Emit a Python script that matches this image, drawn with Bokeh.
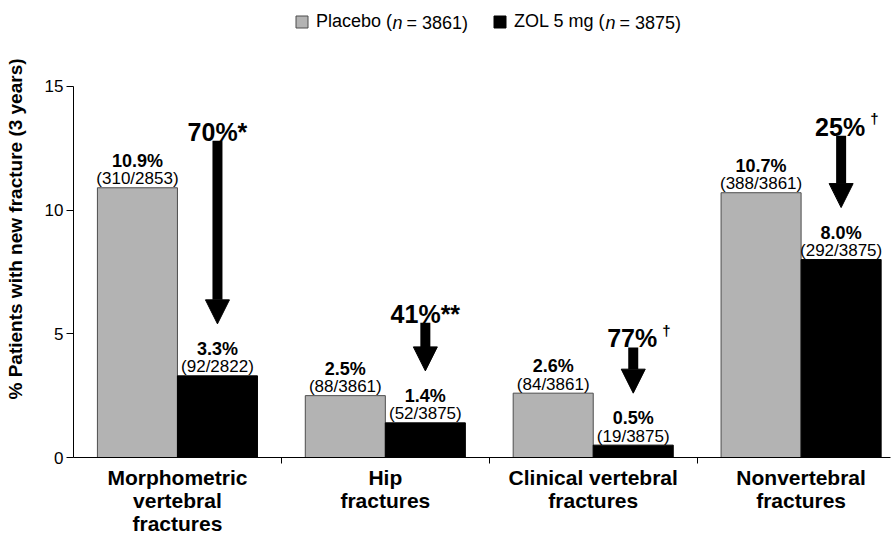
from bokeh.plotting import figure
from bokeh.models import (Range1d, LinearAxis, FixedTicker, ColumnDataSource,
                          Arrow, NormalHead, Legend, LegendItem, Label)
from bokeh.transform import dodge
from bokeh.core.properties import value
from bokeh.embed import file_html
from bokeh.resources import INLINE

# ---- data ----
categories = ["Morphometric\nvertebral\nfractures", "Hip\nfractures",
              "Clinical vertebral\nfractures", "Nonvertebral\nfractures"]
placebo_pct = [10.9, 2.5, 2.6, 10.7]
zol_pct = [3.3, 1.4, 0.5, 8.0]
placebo_counts = ["310/2853", "88/3861", "84/3861", "388/3861"]
zol_counts = ["92/2822", "52/3875", "19/3875", "292/3875"]
reduction = ["70%", "41%", "77%", "25%"]
significance = ["*", "**", "\u2020", "\u2020"]
series_names = ["Placebo", "ZOL 5 mg"]
series_n = [3861, 3875]
y_ticks = [0, 5, 10, 15]
# annotation layout: height (data units) where each reduction arrow starts
arrow_top = [12.8, 5.45, 4.45, 13.0]

FONT = "Liberation Sans"
PLACEBO_FILL = "#b3b3b3"
PLACEBO_LINE = "#4d4d4d"
HALF = 0.1925
BAR_W = 0.385
X_END = 3.93
Y_MAX = 15

W, H = 896, 537
LEFT, AXIS_TOP, BOTTOM, RIGHT = 73, 86, 79, 6
PX_PER_X = (W - LEFT - RIGHT) / X_END
PX_PER_Y = (H - AXIS_TOP - BOTTOM) / Y_MAX
Y_END = Y_MAX + AXIS_TOP / PX_PER_Y   # frame extends to canvas top; axis stops at 15

centers = [i + 0.5 for i in range(len(categories))]

src = ColumnDataSource(dict(
    x=centers,
    placebo=placebo_pct,
    zol=zol_pct,
    placebo_pct_lbl=[f"{v:.1f}%" for v in placebo_pct],
    zol_pct_lbl=[f"{v:.1f}%" for v in zol_pct],
    placebo_n_lbl=[f"({c})" for c in placebo_counts],
    zol_n_lbl=[f"({c})" for c in zol_counts],
))

p = figure(width=W, height=H, x_range=Range1d(0, X_END), y_range=Range1d(0, Y_END),
           output_backend="svg", toolbar_location=None,
           x_axis_type=None, y_axis_type=None,
           min_border_left=LEFT, min_border_right=RIGHT,
           min_border_top=0, min_border_bottom=BOTTOM)
p.outline_line_color = None
p.background_fill_color = "white"

pl = p.vbar(x=dodge("x", -HALF), top="placebo", width=BAR_W, source=src,
            fill_color=PLACEBO_FILL, line_color=PLACEBO_LINE, line_width=1)
zl = p.vbar(x=dodge("x", HALF), top="zol", width=BAR_W, source=src,
            fill_color="black", line_color="black", line_width=1)

for off, top, pct, n in [(-HALF, "placebo", "placebo_pct_lbl", "placebo_n_lbl"),
                         (HALF, "zol", "zol_pct_lbl", "zol_n_lbl")]:
    p.text(x=dodge("x", off), y=top, text=pct, source=src, y_offset=-27,
           text_align="center", text_baseline="alphabetic",
           text_font=value(FONT), text_font_style="bold", text_font_size="18px",
           text_color="black")
    p.text(x=dodge("x", off), y=top, text=n, source=src, y_offset=-9,
           text_align="center", text_baseline="alphabetic",
           text_font=value(FONT), text_font_size="17px", text_color="black")

# reduction arrows
ax = [c + HALF for c in centers]
asrc = ColumnDataSource(dict(x=ax, top=arrow_top, tip=[z + 2.1 for z in zol_pct]))
p.add_layout(Arrow(end=NormalHead(size=24, fill_color="black", line_color="black", line_width=1),
                   x_start="x", y_start="top", x_end="x", y_end="tip",
                   line_width=10, line_color="black", source=asrc))

star = [i for i, s in enumerate(significance) if "*" in s]
dag = [i for i, s in enumerate(significance) if "*" not in s]
ssrc = ColumnDataSource(dict(x=[ax[i] for i in star], y=[arrow_top[i] for i in star],
                             t=[reduction[i] + significance[i] for i in star]))
p.text(x="x", y="y", text="t", source=ssrc, y_offset=-9, text_align="center",
       text_baseline="alphabetic", text_font=value(FONT), text_font_style="bold",
       text_font_size="25px", text_color="black")
dsrc = ColumnDataSource(dict(x=[ax[i] for i in dag], y=[arrow_top[i] for i in dag],
                             t=[reduction[i] for i in dag], s=[significance[i] for i in dag]))
p.text(x="x", y="y", text="t", source=dsrc, y_offset=-9, x_offset=24, text_align="right",
       text_baseline="alphabetic", text_font=value(FONT), text_font_style="bold",
       text_font_size="25px", text_color="black")
p.text(x="x", y="y", text="s", source=dsrc, y_offset=-17, x_offset=29, text_align="left",
       text_baseline="alphabetic", text_font=value(FONT), text_font_style="bold",
       text_font_size="15px", text_color="black")

# axes
yaxis = LinearAxis(ticker=FixedTicker(ticks=y_ticks), bounds=(0, Y_MAX),
                   axis_label="% Patients with new fracture (3 years)",
                   axis_label_text_font=FONT, axis_label_text_font_style="bold",
                   axis_label_text_font_size="19px", axis_label_text_color="black",
                   axis_label_standoff=16,
                   major_label_text_font=FONT, major_label_text_font_size="17px",
                   major_label_text_color="black", major_label_standoff=3,
                   major_tick_out=7, major_tick_in=0, minor_tick_out=0, minor_tick_in=0,
                   axis_line_color="black", major_tick_line_color="black")
p.add_layout(yaxis, "left")

xaxis = LinearAxis(ticker=FixedTicker(ticks=centers, minor_ticks=[1, 2, 3]),
                   major_label_overrides={c: lab for c, lab in zip(centers, categories)},
                   major_label_text_font=FONT, major_label_text_font_style="bold",
                   major_label_text_font_size="21px", major_label_text_color="black",
                   major_label_text_line_height=1.0, major_label_standoff=2,
                   major_tick_out=0, major_tick_in=0, minor_tick_out=6, minor_tick_in=0,
                   minor_tick_line_color="black", axis_line_color="black")
p.add_layout(xaxis, "below")

# legend: squares + opening text via Legend, italic "n" and the rest via Labels
LEG_X = 294          # px, left of first square
LEG_CY = 23          # px, vertical centre of legend row
GLYPH, STANDOFF = 15, 7
SP = 100
legend = Legend(items=[LegendItem(label=f"{series_names[0]} (", renderers=[pl]),
                       LegendItem(label=f"{series_names[1]} (", renderers=[zl])],
                orientation="horizontal", location=(LEG_X - LEFT, H - BOTTOM - LEG_CY - 10),
                glyph_width=GLYPH, glyph_height=GLYPH, label_standoff=STANDOFF, spacing=SP,
                label_text_font=FONT, label_text_font_size="18px", label_text_color="black",
                label_height=20, label_width=10, padding=0, margin=0,
                border_line_color=None, background_fill_alpha=0)
p.add_layout(legend)

# text widths (Arial/Liberation Sans metrics at 18px)
w1 = 76.0    # "Placebo ("
w2 = 91.0    # "ZOL 5 mg ("
wn = 9.0     # italic "n"
wsp = 5.0    # space
label_starts = [LEG_X + GLYPH + STANDOFF + w1,
                LEG_X + GLYPH + STANDOFF + w1 + SP + GLYPH + STANDOFF + w2]
ly = Y_MAX + (AXIS_TOP - LEG_CY) / PX_PER_Y
for start, n in zip(label_starts, series_n):
    p.add_layout(Label(x=(start - LEFT) / PX_PER_X, y=ly, text="n",
                       text_font=FONT, text_font_style="italic", text_font_size="18px",
                       text_baseline="middle", text_align="left", text_color="black"))
    p.add_layout(Label(x=(start + wn + wsp - LEFT) / PX_PER_X, y=ly, text=f"= {n})",
                       text_font=FONT, text_font_size="18px",
                       text_baseline="middle", text_align="left", text_color="black"))

open("out.html", "w").write(file_html(p, INLINE))
